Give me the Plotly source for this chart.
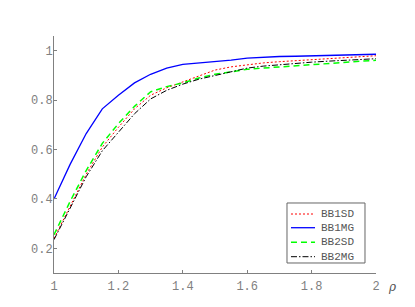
import plotly.graph_objects as go

rho = [1.0, 1.05, 1.1, 1.15, 1.2, 1.25, 1.3, 1.35, 1.4, 1.45, 1.5,
       1.55, 1.6, 1.65, 1.7, 1.75, 1.8, 1.85, 1.9, 1.95, 2.0]

bb1sd = [0.24, 0.37, 0.50, 0.61, 0.69, 0.765, 0.82, 0.85, 0.875, 0.90, 0.922,
         0.935, 0.944, 0.951, 0.956, 0.960, 0.966, 0.970, 0.975, 0.978, 0.980]
bb1mg = [0.40, 0.54, 0.665, 0.765, 0.82, 0.87, 0.905, 0.93, 0.945, 0.95, 0.955,
         0.962, 0.970, 0.975, 0.977, 0.978, 0.980, 0.981, 0.982, 0.984, 0.986]
bb2sd = [0.255, 0.39, 0.515, 0.625, 0.705, 0.775, 0.834, 0.855, 0.87, 0.89, 0.905,
         0.915, 0.925, 0.930, 0.935, 0.940, 0.945, 0.950, 0.955, 0.958, 0.962]
bb2mg = [0.235, 0.36, 0.49, 0.595, 0.67, 0.745, 0.805, 0.84, 0.865, 0.885, 0.90,
         0.915, 0.93, 0.938, 0.944, 0.949, 0.954, 0.958, 0.962, 0.965, 0.968]

x_ticks = [1, 1.2, 1.4, 1.6, 1.8, 2]
x_tick_labels = ["1", "1.2", "1.4", "1.6", "1.8", "2"]
y_ticks = [0.2, 0.4, 0.6, 0.8, 1]
y_tick_labels = ["0.2", "0.4", "0.6", "0.8", "1"]

series = [
    ("BB1SD", bb1sd, dict(color="#ff0000", width=1, dash="2px,2px")),
    ("BB1MG", bb1mg, dict(color="#0000ff", width=1.3, dash="solid")),
    ("BB2SD", bb2sd, dict(color="#00ff00", width=1.5, dash="6px,4px")),
    ("BB2MG", bb2mg, dict(color="#000000", width=1, dash="6px,2px,1.5px,2px")),
]

fig = go.Figure()
for name, vals, line in series:
    fig.add_trace(go.Scatter(x=rho, y=vals, mode="lines", name=name, line=line,
                             showlegend=False))

mono = "Liberation Mono, Courier New, monospace"
axis_font = dict(family=mono, size=12, color="#808080")

fig.update_layout(
    width=415, height=307,
    margin=dict(l=54, r=39, t=36, b=34, autoexpand=False),
    plot_bgcolor="white", paper_bgcolor="white",
    showlegend=False,
    xaxis=dict(
        range=[1, 2], tickvals=x_ticks, ticktext=x_tick_labels, automargin=False,
        showgrid=False, zeroline=False, showline=True, linecolor="#808080", linewidth=1,
        ticks="inside", ticklen=3, tickcolor="#808080", tickfont=axis_font,
        ticklabelstandoff=2,
    ),
    yaxis=dict(
        range=[0.1, 1.06], tickvals=y_ticks, ticktext=y_tick_labels, automargin=False,
        showgrid=False, zeroline=False, showline=True, linecolor="#808080", linewidth=1,
        ticks="inside", ticklen=3, tickcolor="#808080", tickfont=axis_font,
        ticklabelstandoff=-2,
    ),
)

# legend box drawn manually (compact, like the reference)
lx0, lx1, ly0, ly1 = 0.7236, 0.9658, 0.0422, 0.2954
fig.add_shape(type="rect", xref="paper", yref="paper", x0=lx0, x1=lx1, y0=ly0, y1=ly1,
              line=dict(color="#666666", width=1), fillcolor="white", layer="above")
row_y = [0.2489, 0.1911, 0.1295, 0.0688]
for (name, vals, line), ry in zip(series, row_y):
    fig.add_shape(type="line", xref="paper", yref="paper", x0=0.736, x1=0.8106,
                  y0=ry, y1=ry, line=line, layer="above")
    fig.add_annotation(text=name, xref="paper", yref="paper", x=0.823, y=ry,
                       xanchor="left", yanchor="middle", showarrow=False,
                       font=dict(family=mono, size=11, color="#555555"))

fig.add_annotation(
    text="<i>ρ</i>", xref="paper", yref="paper", x=1.0, y=0, xshift=16, yshift=-14,
    showarrow=False, font=dict(family="DejaVu Serif", size=12, color="#555555"),
    xanchor="center", yanchor="middle",
)

fig.write_html("out.html", config={"displayModeBar": False},
               post_script="document.body.style.margin='0px';")
